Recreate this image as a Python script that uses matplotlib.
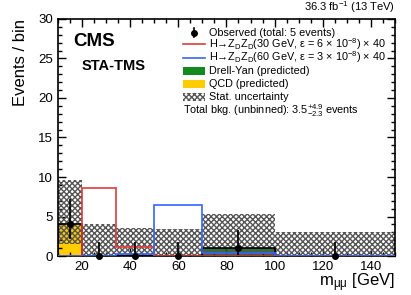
import numpy as np
import matplotlib
matplotlib.use("Agg")
import matplotlib.pyplot as plt
from matplotlib.patches import Rectangle
from matplotlib.ticker import MultipleLocator

plt.rcParams.update({
    "font.family": ["Liberation Sans", "DejaVu Sans"],
    "mathtext.fontset": "custom",
    "mathtext.rm": "Liberation Sans",
    "mathtext.it": "Liberation Sans",
    "mathtext.bf": "Liberation Sans:bold",
    "hatch.linewidth": 1.0,
})

# binning in m_mumu [GeV]
edges = np.array([10, 20, 34, 50, 70, 100, 150])
centers = 0.5 * (edges[:-1] + edges[1:])

# background predictions
qcd = np.array([4.0, 0.0, 0.0, 0.0, 0.0, 0.0])
dy = np.array([0.0, 0.0, 0.0, 0.0, 1.0, 0.0])
stat_lo = np.array([1.5, 0.0, 0.0, 0.0, 0.0, 0.0])
stat_hi = np.array([9.6, 4.1, 3.5, 3.4, 5.3, 3.1])

# signals (x 40)
sig30 = np.array([0.0, 8.55, 1.2, 0.03, 0.0, 0.0])
sig60 = np.array([0.0, 0.0, 0.2, 6.5, 0.45, 0.0])

# observed
obs = np.array([4, 0, 0, 0, 1, 0])
err_lo = np.array([1.9, 0.0, 0.0, 0.0, 0.83, 0.0])
err_hi = np.array([3.2, 1.8, 1.8, 1.8, 2.3, 1.8])

GREEN, YELLOW = "#138a1c", "#ffcc00"
RED, BLUE = "#e23b36", "#3366ff"
HATCH = "#555555"

fig = plt.figure(figsize=(4.11, 2.95), dpi=100)
ax = fig.add_axes([0.141, 0.132, 0.820, 0.804])

widths = np.diff(edges)
ax.bar(edges[:-1], qcd, width=widths, align="edge", color=YELLOW, lw=0, zorder=1)
ax.bar(edges[:-1], dy, bottom=qcd, width=widths, align="edge", color=GREEN, lw=0, zorder=1)
ax.bar(edges[:-1], stat_hi - stat_lo, bottom=stat_lo, width=widths, align="edge",
       fill=False, hatch="xxxxxx", edgecolor=HATCH, lw=0, zorder=2)

total = qcd + dy
ax.stairs(total, edges, color="black", lw=1.2, zorder=3)
ax.stairs(sig30, edges, color=RED, lw=1.2, zorder=4)
ax.stairs(sig60, edges, color=BLUE, lw=1.2, zorder=4)

ax.errorbar(centers, obs, yerr=[err_lo, err_hi], fmt="o", color="black",
            ms=4, lw=1.2, capsize=0, zorder=6, clip_on=False)

ax.set_xlim(10, 150)
ax.set_ylim(0, 30)
ax.xaxis.set_major_locator(MultipleLocator(20))
ax.xaxis.set_minor_locator(MultipleLocator(5))
ax.yaxis.set_major_locator(MultipleLocator(5))
ax.yaxis.set_minor_locator(MultipleLocator(1))
ax.tick_params(which="both", direction="in", top=True, right=True, labelsize=9.5, width=1.0)
ax.tick_params(which="major", length=6)
ax.tick_params(which="minor", length=3)
for s in ax.spines.values():
    s.set_linewidth(1.2)

ax.set_xlabel(r"m$_{\mu\mu}$ [GeV]", fontsize=12, loc="right", labelpad=-1)
ax.set_ylabel("Events / bin", fontsize=12, loc="top", labelpad=7)

ax.text(0.045, 0.905, "CMS", transform=ax.transAxes, fontsize=13.5,
        fontweight="bold", va="center")
ax.text(0.07, 0.80, "STA-TMS", transform=ax.transAxes, fontsize=10.5,
        fontweight="bold", va="center")
ax.text(1.0, 1.015, r"36.3 fb$^{-1}$ (13 TeV)", transform=ax.transAxes,
        fontsize=8, ha="right", va="bottom")

# hand-placed legend, ROOT style
leg_labels = [
    "Observed (total: 5 events)",
    r"H→Z$_{\mathregular{D}}$Z$_{\mathregular{D}}$(30 GeV, ε = 6 × 10$^{\mathregular{-8}}$) × 40",
    r"H→Z$_{\mathregular{D}}$Z$_{\mathregular{D}}$(60 GeV, ε = 3 × 10$^{\mathregular{-8}}$) × 40",
    "Drell-Yan (predicted)",
    "QCD (predicted)",
    "Stat. uncertainty",
]
leg_kind = ["obs", "red", "blue", "green", "yellow", "hatch"]
rows = [0.942, 0.893, 0.837, 0.781, 0.725, 0.670]
x0, x1, xt = 0.371, 0.436, 0.448
ph = 0.035
for lab, kind, y in zip(leg_labels, leg_kind, rows):
    if kind == "obs":
        xm = 0.5 * (x0 + x1)
        ax.plot([xm], [y], "o", color="black", ms=4, transform=ax.transAxes, clip_on=False, zorder=7)
        ax.plot([xm, xm], [y - 0.02, y + 0.02], color="black", lw=1.2,
                transform=ax.transAxes, clip_on=False, zorder=7)
    elif kind in ("red", "blue"):
        ax.plot([x0, x1], [y, y], color=RED if kind == "red" else BLUE, lw=1.2,
                transform=ax.transAxes, zorder=7)
    else:
        kw = {"green": dict(facecolor=GREEN, edgecolor="none"),
              "yellow": dict(facecolor=YELLOW, edgecolor="none"),
              "hatch": dict(facecolor="white", hatch="xxxxxx", edgecolor=HATCH, lw=0)}[kind]
        ax.add_patch(Rectangle((x0, y - ph / 2), x1 - x0, ph, transform=ax.transAxes,
                               zorder=7, **kw))
    ax.text(xt, y, lab, transform=ax.transAxes, fontsize=7.8, va="center", zorder=7)

ax.text(0.371, 0.612, r"Total bkg. (unbinned): 3.5$^{+4.9}_{-2.3}$ events",
        transform=ax.transAxes, fontsize=7.8, va="center", zorder=7)

fig.savefig("out.png", dpi=100)
